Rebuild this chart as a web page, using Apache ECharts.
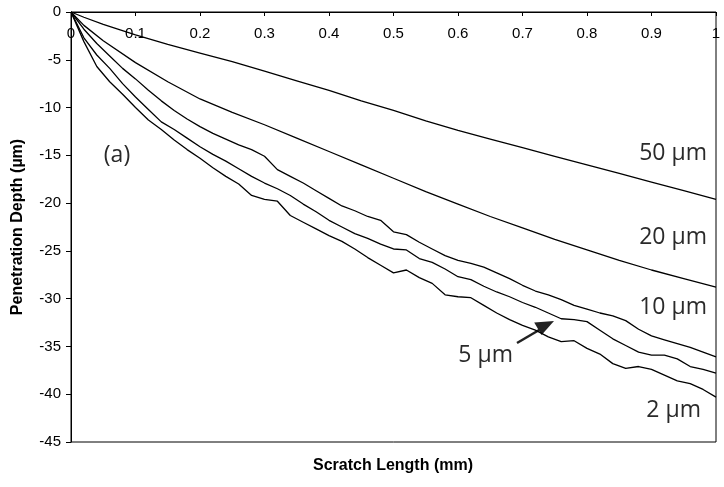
<!DOCTYPE html>
<html>
<head>
<meta charset="utf-8">
<script src="https://cdn.jsdelivr.net/npm/echarts@6/dist/echarts.min.js"></script>
<style>
  html, body { margin: 0; padding: 0; background: #fff; }
  #chart { width: 724px; height: 487px; }
</style>
</head>
<body>
<div id="chart"></div>
<script>
// 划痕长度 (mm)，每组曲线共用
const xSmooth = [0, 0.02, 0.05, 0.1, 0.15, 0.2, 0.25, 0.3, 0.35, 0.4, 0.45, 0.5,
  0.55, 0.6, 0.65, 0.7, 0.75, 0.8, 0.85, 0.9, 0.95, 1];
const xNoisy = [0, 0.02, 0.04, 0.06, 0.08, 0.1, 0.12, 0.14, 0.16, 0.18, 0.2, 0.22,
  0.24, 0.26, 0.28, 0.3, 0.32, 0.34, 0.36, 0.38, 0.4, 0.42, 0.44, 0.46, 0.48, 0.5,
  0.52, 0.54, 0.56, 0.58, 0.6, 0.62, 0.64, 0.66, 0.68, 0.7, 0.72, 0.74, 0.76, 0.78,
  0.8, 0.82, 0.84, 0.86, 0.88, 0.9, 0.92, 0.94, 0.96, 0.98, 1];

// 压入深度 (µm)
const depth50 = [0, -0.55, -1.3, -2.4, -3.4, -4.3, -5.2, -6.2, -7.2, -8.2, -9.3, -10.3,
  -11.4, -12.4, -13.3, -14.2, -15.1, -16.0, -16.9, -17.8, -18.7, -19.6];
const depth20 = [0, -1.4, -3.0, -5.3, -7.3, -9.1, -10.5, -11.8, -13.2, -14.6, -16.0, -17.4,
  -18.8, -20.1, -21.4, -22.6, -23.8, -24.9, -26.0, -27.0, -27.9, -28.8];
const depth10 = [0, -1.8, -3.3, -4.6, -5.9, -7.0, -8.2, -9.3, -10.3, -11.2, -12.0, -12.7,
  -13.3, -13.9, -14.4, -15.1, -16.5, -17.2, -17.9, -18.7, -19.5, -20.3, -20.8, -21.4, -21.8, -23.0,
  -23.3, -24.1, -24.8, -25.5, -26.0, -26.3, -26.7, -27.3, -27.9, -28.6, -29.2, -29.6, -30.1, -30.7,
  -31.1, -31.5, -31.8, -32.3, -33.2, -33.9, -34.3, -34.7, -35.1, -35.6, -36.1];
const depth5 = [0, -2.7, -4.5, -5.9, -7.5, -8.9, -10.2, -11.5, -12.3, -13.2, -14.1, -14.9,
  -15.6, -16.4, -17.2, -17.9, -18.5, -19.2, -20.1, -20.9, -21.8, -22.5, -23.2, -23.7, -24.3, -24.8,
  -24.9, -25.8, -26.2, -26.9, -27.7, -28.0, -28.7, -29.3, -29.8, -30.4, -30.9, -31.5, -32.1, -32.2,
  -32.4, -33.3, -34.2, -34.9, -35.6, -35.9, -35.9, -36.3, -37.1, -37.4, -37.8];
const depth2 = [0, -3.1, -5.7, -7.3, -8.6, -10.0, -11.3, -12.3, -13.4, -14.4, -15.3, -16.3,
  -17.2, -18.0, -19.2, -19.6, -19.8, -21.3, -22.0, -22.7, -23.4, -24.0, -24.8, -25.7, -26.5, -27.3,
  -27.0, -27.8, -28.4, -29.6, -29.8, -29.9, -30.7, -31.5, -32.2, -32.8, -33.3, -34.0, -34.5, -34.4,
  -35.2, -35.8, -36.8, -37.3, -37.1, -37.4, -38.0, -38.6, -38.9, -39.5, -40.3];

const pair = (xs, ys) => xs.map((x, i) => [x, ys[i]]);

const lineSeries = (name, data) => ({
  name,
  type: 'line',
  data,
  symbol: 'none',
  smooth: false,
  lineStyle: { color: '#000', width: 1.3 },
  silent: true,
});

const labelFont = '"Open Sans", sans-serif';
const label = (x, y, text, align) => ({
  type: 'text',
  x,
  y,
  style: {
    text,
    fill: '#2a2a2a',
    font: '23px ' + labelFont,
    textAlign: align || 'right',
    textVerticalAlign: 'middle',
  },
});

const chart = echarts.init(document.getElementById('chart'));
chart.setOption({
  animation: false,
  grid: {
    left: 71,
    right: 8,
    top: 12,
    bottom: 45,
    show: true,
    borderColor: '#000',
    borderWidth: 1,
    containLabel: false,
    outerBoundsMode: 'none',
  },
  xAxis: {
    type: 'value',
    position: 'top',
    min: 0,
    max: 1,
    interval: 0.1,
    axisLine: { lineStyle: { color: '#000', width: 1 } },
    axisTick: { inside: true, length: 4, lineStyle: { color: '#000' } },
    axisLabel: {
      inside: true,
      margin: 14,
      color: '#000',
      fontFamily: 'Liberation Sans',
      fontSize: 15,
      formatter: (v) => String(Math.round(v * 10) / 10),
    },
    splitLine: { show: false },
  },
  yAxis: {
    type: 'value',
    min: -45,
    max: 0,
    interval: 5,
    name: 'Penetration Depth (µm)',
    nameLocation: 'middle',
    nameGap: 45,
    nameTextStyle: { fontFamily: 'Liberation Sans', fontWeight: 'bold', fontSize: 16, color: '#000' },
    axisLine: { lineStyle: { color: '#000', width: 1 } },
    axisTick: { length: 5, lineStyle: { color: '#000' } },
    axisLabel: { margin: 10, color: '#000', fontFamily: 'Liberation Sans', fontSize: 15 },
    splitLine: { show: false },
  },
  series: [
    lineSeries('50 µm', pair(xSmooth, depth50)),
    lineSeries('20 µm', pair(xSmooth, depth20)),
    lineSeries('10 µm', pair(xNoisy, depth10)),
    lineSeries('5 µm', pair(xNoisy, depth5)),
    lineSeries('2 µm', pair(xNoisy, depth2)),
  ],
  graphic: [
    {
      type: 'text',
      x: 393,
      y: 466,
      style: {
        text: 'Scratch Length (mm)',
        fill: '#000',
        font: 'bold 16px "Liberation Sans", Arial, sans-serif',
        textAlign: 'center',
        textVerticalAlign: 'middle',
      },
    },
    label(117, 155, '(a)', 'center'),
    label(707, 153, '50 µm'),
    label(707, 237, '20 µm'),
    label(707, 307, '10 µm'),
    label(513, 355, '5 µm'),
    label(701, 410, '2 µm'),
    {
      type: 'line',
      shape: { x1: 517, y1: 343, x2: 540, y2: 329.5 },
      style: { stroke: '#222', lineWidth: 2.5 },
    },
    {
      type: 'polygon',
      shape: { points: [[554, 321], [541.6, 334.9], [534.2, 322.6]] },
      style: { fill: '#222' },
    },
  ],
});
</script>
</body>
</html>
